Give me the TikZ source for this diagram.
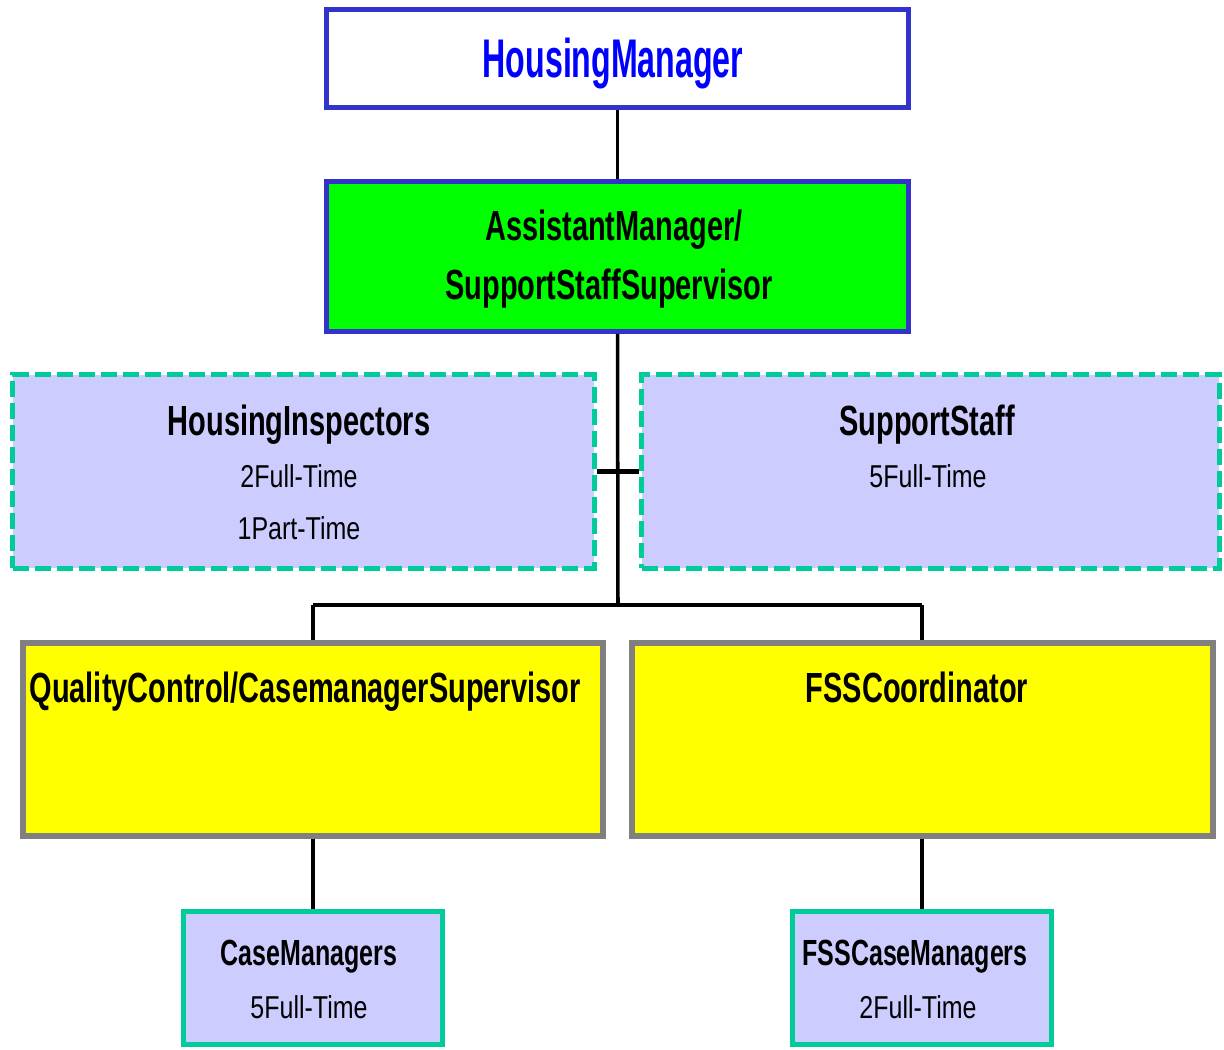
\documentclass[tikz,border=0pt]{standalone}
\usepackage{fontspec}
\setmainfont[FakeStretch=0.6875]{Liberation Sans}
\newfontfamily\titlefont[FakeStretch=0.59]{Liberation Sans}
\newfontfamily\countfont[FakeStretch=0.79]{Liberation Sans}
\usetikzlibrary{positioning}

\definecolor{boxblue}{HTML}{3333CC}
\definecolor{txtblue}{HTML}{0000FF}
\definecolor{mgrgreen}{HTML}{00FF00}
\definecolor{lavender}{HTML}{CCCCFF}
\definecolor{staffteal}{HTML}{00CC99}
\definecolor{supgray}{HTML}{808080}
\definecolor{supyellow}{HTML}{FFFF00}

\tikzset{
  mgrbox/.style={draw=boxblue, line width=2.8pt, inner sep=0pt, minimum width=11.64cm},
  teambox/.style={draw=staffteal, fill=lavender, line width=2.8pt, inner sep=0pt,
    dash pattern=on 0.32cm off 0.12cm, minimum height=3.88cm},
  supbox/.style={draw=supgray, fill=supyellow, line width=3.4pt, inner sep=0pt,
    minimum height=3.86cm},
  workbox/.style={draw=staffteal, fill=lavender, line width=2.8pt, inner sep=0pt,
    minimum width=5.18cm, minimum height=2.66cm},
  bigtxt/.style={anchor=base, inner sep=0pt, font=\fontsize{24}{28}\selectfont\bfseries},
  smalltxt/.style={anchor=base, inner sep=0pt, font=\fontsize{20.7}{25}\selectfont\bfseries},
  counttxt/.style={anchor=base, inner sep=0pt, font=\fontsize{18}{22}\selectfont\countfont},
  link/.style={black, line width=2pt},
  bar/.style={black, line width=2.8pt}
}

\begin{document}
\begin{tikzpicture}[x=0.02cm, y=-0.02cm]
\useasboundingbox (0,0) rectangle (1224,1049);

% managers
\node[mgrbox, fill=white, minimum height=1.96cm] (hm) at (617.5,58.5) {};
\node[mgrbox, fill=mgrgreen, minimum height=3cm] (am) at (617.5,256.5) {};

\node[anchor=base, inner sep=0pt, text=txtblue, font=\fontsize{31}{36}\selectfont\titlefont\bfseries] (hmtxt) at (613,77) {HousingManager};
\node[bigtxt] (amtxt1) at (614,240) {AssistantManager/};
\node[bigtxt] (amtxt2) at (609,299) {SupportStaffSupervisor};

% staff (dashed)
\node[teambox, minimum width=11.64cm] (hi) at (303.5,471.5) {};
\node[teambox, minimum width=11.56cm] (ss) at (930.5,471.5) {};

\node[bigtxt] (hitxt) at (299,435) {HousingInspectors};
\node[counttxt] (hift) at (299,487) {2Full-Time};
\node[counttxt] (hipt) at (299,539) {1Part-Time};

\node[bigtxt] (sstxt) at (927,435) {SupportStaff};
\node[counttxt] (ssft) at (928,487) {5Full-Time};

% supervisors
\node[supbox, minimum width=11.6cm] (qc) at (313,739.5) {};
\node[supbox, minimum width=11.62cm] (fss) at (922.5,739.5) {};

\node[bigtxt] (qctxt) at (305,702) {QualityControl/CasemanagerSupervisor};
\node[bigtxt] (fsstxt) at (917,702) {FSSCoordinator};

% case managers
\node[workbox] (cm) at (313,978) {};
\node[workbox] (fcm) at (922,978) {};

\node[smalltxt] (cmtxt) at (309,965) {CaseManagers};
\node[counttxt] (cmft) at (309,1018) {5Full-Time};
\node[smalltxt] (fcmtxt) at (915,965) {FSSCaseManagers};
\node[counttxt] (fcmft) at (918,1018) {2Full-Time};

% links
\coordinate (jn) at (618,605);
\coordinate (jl) at (313,605);
\coordinate (jr) at (922,605);

\draw[link] (hm.south) -- (am.north);
\draw[link] (am.south) -- (jn);
\draw[bar] (hi.east) -- (ss.west);
\draw[bar] (jl) -- (jr);
\draw[link] (jl) -- (jl |- qc.north);
\draw[link] (jr) -- (jr |- fss.north);
\draw[link] (cm.north |- qc.south) -- (cm.north);
\draw[link] (fcm.north |- fss.south) -- (fcm.north);

\end{tikzpicture}
\end{document}
